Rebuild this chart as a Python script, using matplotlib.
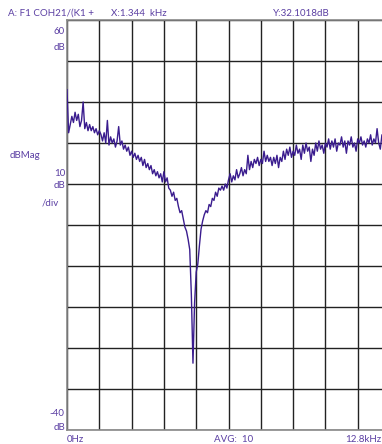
import numpy as np
import matplotlib
matplotlib.use("Agg")
import matplotlib.pyplot as plt

# Frequency bins (kHz), 0.064 kHz spacing
freq_step_khz = 0.064
mag_db = [
    43.0, 32.5, 34.5, 36.5, 35.0, 37.5, 35.5, 37.0, 34.0, 35.5,
    40.0, 33.5, 35.0, 33.0, 34.5, 33.0, 34.0, 32.5, 33.5, 32.0,
    33.0, 32.1, 30.5, 32.5, 30.0, 35.5, 29.5, 31.5, 30.0, 31.0,
    29.0, 30.5, 34.0, 29.5, 30.5, 28.5, 29.5, 28.0, 29.0, 27.0,
    28.0, 26.5, 27.5, 26.0, 27.0, 25.5, 26.5, 24.5, 26.0, 24.0,
    25.0, 23.5, 24.5, 22.5, 23.5, 22.0, 23.0, 21.5, 22.5, 20.5,
    23.0, 20.5, 21.5, 19.0, 18.5, 17.0, 18.0, 16.0, 16.5, 14.5,
    13.0, 13.5, 11.5, 9.5, 8.5, 6.5, 4.0, -7.0, -23.7, -9.0,
    -1.5, 0.5, 5.0, 9.0, 11.0, 12.5, 13.5, 13.0, 15.0, 14.5,
    16.5, 16.0, 18.0, 17.0, 19.0, 18.5, 19.5, 18.5, 20.0, 19.0,
    21.0, 22.5, 20.5, 22.0, 21.0, 23.5, 21.5, 22.5, 24.0, 22.0,
    23.5, 22.5, 27.0, 23.5, 25.5, 24.0, 26.0, 25.0, 26.5, 24.5,
    26.0, 25.0, 28.0, 25.5, 27.0, 25.5, 26.5, 24.5, 26.5, 25.0,
    27.0, 24.0, 26.5, 25.5, 28.0, 26.0, 28.5, 27.0, 29.0, 26.5,
    28.0, 27.0, 29.5, 27.5, 28.5, 26.0, 29.5, 27.5, 30.0, 28.0,
    29.0, 25.5, 28.5, 27.0, 30.0, 28.0, 30.5, 28.5, 29.5, 27.5,
    30.0, 29.0, 31.0, 28.5, 30.5, 29.0, 31.0, 28.0, 30.0, 29.5,
    31.5, 29.0, 30.5, 27.5, 30.5, 29.5, 31.5, 29.0, 30.0, 28.0,
    31.0, 30.0, 31.5, 29.5, 30.5, 29.0, 31.0, 30.0, 32.0, 29.5,
    31.0, 30.0, 33.5, 30.0, 28.5, 32.0, 30.5, 31.5, 30.0, 31.0,
]
freq_khz = np.arange(len(mag_db)) * freq_step_khz

x_grid = np.linspace(0, 12.8, 11)
y_grid = np.linspace(-40, 60, 11)

W, H = 382, 444
fig = plt.figure(figsize=(W / 100, H / 100), dpi=100)
ax = fig.add_axes([67 / W, (H - 430) / H, 323 / W, 410 / H])
ax.set_xlim(0, 12.8)
ax.set_ylim(-40, 60)
for xv in x_grid:
    ax.axvline(xv, color="#222222", lw=1.0, zorder=1)
for yv in y_grid:
    ax.axhline(yv, color="#222222", lw=1.0, zorder=1)
for s in ax.spines.values():
    s.set_color("#888888")
    s.set_linewidth(1.2)
ax.set_xticks([])
ax.set_yticks([])
ax.plot(freq_khz, mag_db, color="#3a1c8e", lw=1.0, zorder=3)

tc = "#5b3fa3"
font = "Lato"
fs = 7

def t(x, y, s, ha="left", va="center"):
    fig.text(x / W, 1 - y / H, s, ha=ha, va=va, color=tc, fontsize=fs, family=font)

t(8, 13, "A: F1 COH21/(K1 +")
t(111, 13, "X:1.344  kHz")
t(273, 13, "Y:32.1018dB")
t(65, 31, "60", ha="right")
t(65, 47, "dB", ha="right")
t(10, 155, "dBMag")
t(65, 173, "10", ha="right")
t(65, 185, "dB", ha="right")
t(42, 203, "/div")
t(64, 413, "-40", ha="right")
t(65, 427, "dB", ha="right")
t(67, 443.5, "0Hz", va="bottom")
t(214, 443.5, "AVG:  10", va="bottom")
t(345, 443.5, "12.8kHz", va="bottom")

fig.savefig("out.png", dpi=100)
